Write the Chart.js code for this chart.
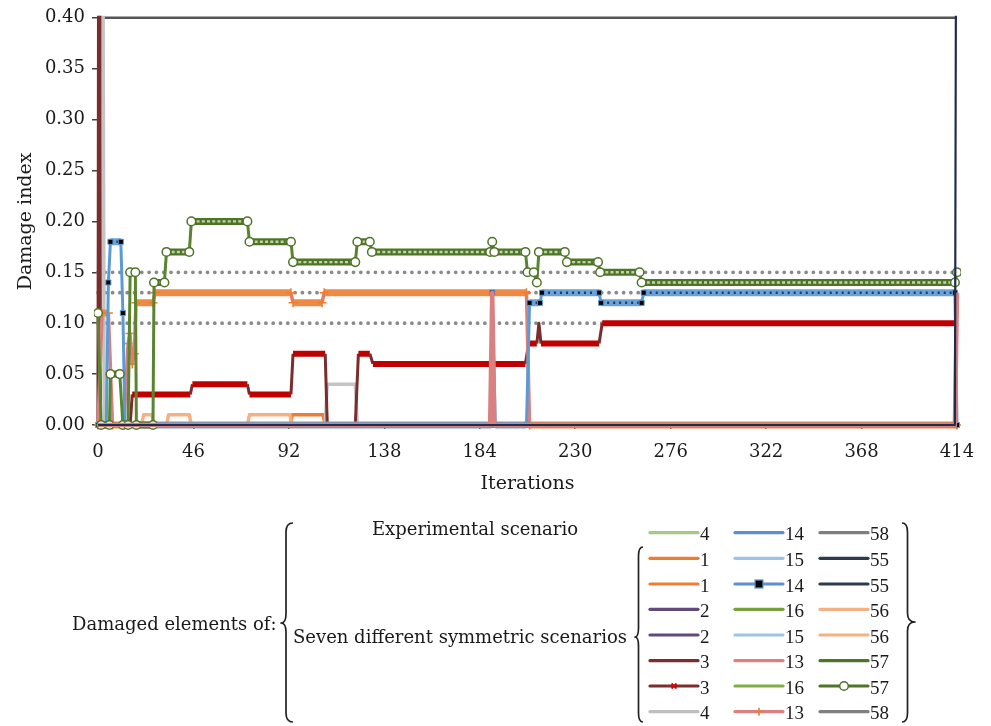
<!DOCTYPE html>
<html><head><meta charset="utf-8">
<script src="https://cdn.jsdelivr.net/npm/chart.js@4.4.1/dist/chart.umd.min.js"></script>
<style>
html,body{margin:0;padding:0;background:#fff;}
#wrap{position:relative;width:991px;height:726px;overflow:hidden;font-family:"DejaVu Serif",serif;color:#1a1a1a;}
#c{position:absolute;left:0;top:0;}
#lg{position:absolute;left:0;top:0;}
.t{position:absolute;white-space:nowrap;font-family:"DejaVu Serif",serif;font-size:18px;line-height:18px;}
.n{position:absolute;white-space:nowrap;font-family:"Liberation Serif",serif;font-size:19px;line-height:19px;}
</style></head>
<body><div id="wrap"><canvas id="c" width="991" height="500"></canvas><svg id="lg" width="991" height="726"></svg></div>
<script>
// ---------- DATA ----------
const iterationTicks = [0,46,92,138,184,230,276,322,368,414];
const damageTicks = [0,0.05,0.10,0.15,0.20,0.25,0.30,0.35,0.40];
const targetLevels = [0.15,0.13,0.10];

// [iteration, damage index] change points for each identified series
const series57circle = [[0,0.11],[1.5,0],[5.5,0],[6,0.05],[10.5,0.05],[12,0],[14.5,0],[15.5,0.15],[18,0.15],[18.5,0],[26.5,0],[27,0.14],[32,0.14],[33,0.17],[44,0.17],[45,0.20],[72,0.20],[73,0.18],[93,0.18],[94,0.16],[124,0.16],[125,0.18],[131,0.18],[132,0.17],[189,0.17],[190,0.18],[191,0.17],[206,0.17],[207,0.15],[210,0.15],[211.5,0.14],[212.5,0.17],[225,0.17],[226,0.16],[241,0.16],[242,0.15],[261,0.15],[262,0.14],[413,0.14],[414,0.15]];
const series14square = [[0,0],[4,0],[5,0.14],[6,0.18],[11,0.18],[12,0.11],[13,0],[189.5,0],[190,0.13],[191.5,0],[206.5,0],[208,0.12],[213,0.12],[214,0.13],[241.5,0.13],[242.5,0.12],[262,0.12],[263,0.13],[413,0.13],[414,0]];
const series13plus = [[0,0],[2,0.11],[5,0.11],[7,0],[12.5,0],[14.5,0.08],[15.4,0.09],[16.5,0.06],[17.5,0.07],[18.3,0.12],[26.5,0.12],[27.5,0.13],[93,0.13],[94,0.12],[108,0.12],[109,0.13],[206.5,0.13],[208,0],[414,0]];
const series13 = [[0,0],[189,0],[190,0.13],[191,0],[413,0],[414,0.13]];
const series3cross = [[0,0],[15.5,0],[16.5,0.03],[44.5,0.03],[45.5,0.04],[72,0.04],[73,0.03],[93,0.03],[94,0.07],[109.5,0.07],[110.5,0],[124,0],[125.5,0.07],[131,0.07],[132.5,0.06],[206,0.06],[207.5,0.08],[211.5,0.08],[212.5,0.10],[213.5,0.08],[241.5,0.08],[243,0.10],[414,0.10]];
const series3 = [[0,0],[0.5,0.9],[1.2,0],[414,0]];
const series4 = [[0,0],[1.8,0.9],[3,0],[109.5,0],[110.5,0.04],[124,0.04],[125,0],[414,0]];
const series56 = [[0,0],[21,0],[22,0.01],[26,0.01],[27,0],[33,0],[34,0.01],[44,0.01],[45,0],[72,0],[73,0.01],[92.5,0.01],[93.5,0],[414,0]];
const series1 = [[0,0],[93,0],[93.5,0.01],[108.5,0.01],[109.5,0],[414,0]];
const series55 = [[0,0],[413,0],[414,0.9]];
const series58 = [[0,0],[414,0]];

// legend content
const legendNumbers = [
  ['4','1','1','2','2','3','3','4'],
  ['14','15','14','16','15','13','16','13'],
  ['58','55','55','56','56','57','57','58']];
const legendColors = [
  ['#a5c882','#ed7d31','#ed7d31','#604a7b','#604a7b','#7b2c2c','#7b2c2c','#bfbfbf'],
  ['#5b8fd0','#9dc3e6','#5b8fd0','#77a03c','#9dc3e6','#d98080','#7fae45','#d98080'],
  ['#7f7f7f','#2e3b4e','#2e3b4e','#f4b183','#f4b183','#4e7428','#4e7428','#7f7f7f']];
const legendMarkers = [
  [null,null,null,null,null,null,'x',null],
  [null,null,'square',null,null,null,null,'plus'],
  [null,null,null,null,null,null,'circle',null]];

// ---------- CHART ----------
const pts = a => a.map(p => ({x:p[0], y:p[1]}));
const flat = c => c.p0.parsed.y === c.p1.parsed.y;
const seg = (fc, tc, fw, tw) => ({borderColor: c => flat(c) ? fc : tc, borderWidth: c => flat(c) ? fw : tw});
const NONE = 'rgba(0,0,0,0)';
const base = {pointRadius:0, fill:false, tension:0, borderCapStyle:'butt', borderJoinStyle:'round',
  clip:{left:4, top:2, right:4, bottom:6}};

const datasets = [];
targetLevels.forEach((v,i) => datasets.push(Object.assign({}, base, {
  label:'target '+v, data: pts([[0,v],[414,v]]), borderColor:'#8a8a8a', borderWidth:3.8,
  borderDash:[0,7.3], borderCapStyle:'round', order:30})));
datasets.push(Object.assign({}, base, {label:'3', data:pts(series3), borderColor:'#7b2c2c', borderWidth:3, order:11.5}));
datasets.push(Object.assign({}, base, {label:'1', data:pts(series1), borderColor:'#ed7d31', borderWidth:3.5, order:14}));
datasets.push(Object.assign({}, base, {label:'56', data:pts(series56), borderColor:'#f4b183', borderWidth:3.5, order:13}));
datasets.push(Object.assign({}, base, {label:'4', data:pts(series4), borderColor:'#c4c4c4', borderWidth:3.5, order:12}));
datasets.push(Object.assign({}, base, {label:'3 (x)', data:pts(series3cross), borderColor:'#c00000', borderWidth:6, segment:seg('#c00000','#7b2c2c',6,3), order:11}));
datasets.push(Object.assign({}, base, {label:'13 (+)', data:pts(series13plus), borderColor:'#ed7d31', borderWidth:6, segment:seg('#ee8a45','#d98080',7,3.5),
  pointRadius:4.5, pointStyle:'cross', pointBorderColor:'#ed7d31', pointBorderWidth:1.5, order:10}));
datasets.push(Object.assign({}, base, {label:'14 (square)', data:pts(series14square), borderColor:'#5b9bd5', borderWidth:6, segment:seg('#6aa2d8','#5b9bd5',7,3), order:9.2}));
datasets.push(Object.assign({}, base, {label:'14 (square) markers', data:pts(series14square), borderColor:'#1f3050', borderWidth:2.5, borderDash:[2,4],
  segment:seg('#243a5e',NONE,2.5,0), pointRadius:3.6, pointStyle:'rect', pointBackgroundColor:'#000', pointBorderColor:'#5b9bd5', pointBorderWidth:1, order:9.1}));
datasets.push(Object.assign({}, base, {label:'58', data:pts(series58), borderColor:'#787878', borderWidth:4.5, order:8}));
datasets.push(Object.assign({}, base, {label:'57 (circle)', data:pts(series57circle), borderColor:'#4e7428', borderWidth:7, segment:seg('#4e7428','#5a8530',7,3), order:7.2}));
datasets.push(Object.assign({}, base, {label:'57 (circle) markers', data:pts(series57circle), borderColor:'#c7d8b0', borderWidth:2.4, borderDash:[3,2.2],
  segment:seg('#c2d4a8',NONE,2.4,0), pointRadius:4.3, pointStyle:'circle', pointBackgroundColor:'#fff', pointBorderColor:'#4e7428', pointBorderWidth:1.5, order:7.1}));
datasets.push(Object.assign({}, base, {label:'13', data:pts(series13), borderColor:'#d98080', borderWidth:4.5, order:5}));
datasets.push(Object.assign({}, base, {label:'55', data:pts(series55), borderColor:'#1f2d4d', borderWidth:2.2, order:4}));

const DARK = '#404040';
const TXT = '#1a1a1a';
const topFrame = {
  id:'topFrame',
  beforeDatasetsDraw(chart){
    const {ctx, chartArea:a} = chart;
    ctx.save(); ctx.strokeStyle='#555'; ctx.lineWidth=2.5;
    ctx.beginPath(); ctx.moveTo(a.left, a.top); ctx.lineTo(a.right, a.top); ctx.stroke(); ctx.restore();
  }
};

new Chart(document.getElementById('c'), {
  type:'line',
  data:{datasets},
  plugins:[topFrame],
  options:{
    responsive:false, animation:false, devicePixelRatio:1,
    layout:{padding:{top:15, right:34, left:0, bottom:0}},
    plugins:{legend:{display:false}, tooltip:{enabled:false}},
    scales:{
      x:{type:'linear', min:0, max:414,
        afterBuildTicks: s => { s.ticks = iterationTicks.map(v => ({value:v})); },
        afterFit: s => { s.height = 75; },
        border:{display:true, color:DARK, width:1.5},
        grid:{display:true, drawOnChartArea:false, drawTicks:true, tickLength:4, color:DARK, lineWidth:1.5},
        ticks:{color:TXT, font:{family:'DejaVu Serif', size:18}, padding:13, maxRotation:0, autoSkip:false},
        title:{display:true, text:'Iterations', color:TXT, font:{family:'DejaVu Serif', size:19}, padding:{top:0, bottom:5}}
      },
      y:{min:0, max:0.4,
        afterBuildTicks: s => { s.ticks = damageTicks.map(v => ({value:v})); },
        afterFit: s => { s.width = 98; },
        border:{display:true, color:DARK, width:2},
        grid:{display:true, drawOnChartArea:false, drawTicks:true, tickLength:6, color:DARK, lineWidth:1.5},
        ticks:{color:TXT, font:{family:'DejaVu Serif', size:18}, padding:7, callback: v => Number(v).toFixed(2)},
        title:{display:true, text:'Damage index', color:TXT, font:{family:'DejaVu Serif', size:19}, padding:{top:15, bottom:0}}
      }
    }
  }
});

// ---------- LEGEND ----------
const wrap = document.getElementById('wrap');
const svg = document.getElementById('lg');
const NS = 'http://www.w3.org/2000/svg';
function el(tag, attrs){ const e = document.createElementNS(NS, tag); for (const k in attrs) e.setAttribute(k, attrs[k]); svg.appendChild(e); return e; }
function txt(s, x, y, cls, center){
  const d = document.createElement('div'); d.className = cls; d.textContent = s;
  d.style.left = x + 'px'; d.style.top = y + 'px';
  d.style.transform = center ? 'translate(-50%,-50%)' : 'translate(0,-50%)';
  wrap.appendChild(d);
}
function brace(xp, xm, xr, top, mid, bottom){
  const r = 9;
  const d = `M${xr},${top} Q${xm},${top} ${xm},${top+r} L${xm},${mid-r} Q${xm},${mid} ${xp},${mid} Q${xm},${mid} ${xm},${mid+r} L${xm},${bottom-r} Q${xm},${bottom} ${xr},${bottom}`;
  el('path', {d, fill:'none', stroke:'#222', 'stroke-width':1.7, 'stroke-linejoin':'round'});
}

brace(281, 286, 293, 523, 623, 722);
brace(635, 638.5, 643, 547, 637, 722);
brace(915, 907.5, 902, 523, 622, 722);

txt('Damaged elements of:', 72, 623.5, 't', false);
txt('Experimental scenario', 475, 528.5, 't', true);
txt('Seven different symmetric scenarios', 293, 637, 't', false);

const rowY = [532.7,558.3,584,609.3,635,660.7,686,711.7];
const colX = [650,735,820];
const lineLen = 48;
legendNumbers.forEach((col, ci) => {
  col.forEach((label, ri) => {
    const x0 = colX[ci], y = rowY[ri], c = legendColors[ci][ri];
    el('line', {x1:x0, y1:y, x2:x0+lineLen, y2:y, stroke:c, 'stroke-width':3.2, 'stroke-linecap':'round'});
    const m = legendMarkers[ci][ri], cx = x0 + lineLen/2;
    if (m === 'square') el('rect', {x:cx-4, y:y-4, width:8, height:8, fill:'#000', stroke:'#5b9bd5', 'stroke-width':1.2});
    if (m === 'circle') el('circle', {cx, cy:y, r:4.3, fill:'#fff', stroke:'#4e7428', 'stroke-width':1.5});
    if (m === 'x') { el('path', {d:`M${cx-2.5},${y-2.5} L${cx+2.5},${y+2.5} M${cx+2.5},${y-2.5} L${cx-2.5},${y+2.5}`, stroke:'#e00000', 'stroke-width':1.8}); }
    if (m === 'plus') { el('path', {d:`M${cx-4},${y} L${cx+4},${y} M${cx},${y-4} L${cx},${y+4}`, stroke:'#ed7d31', 'stroke-width':1.6}); }
    txt(label, x0 + lineLen + 2, y + 0.5, 'n', false);
  });
});
</script>
</body></html>
